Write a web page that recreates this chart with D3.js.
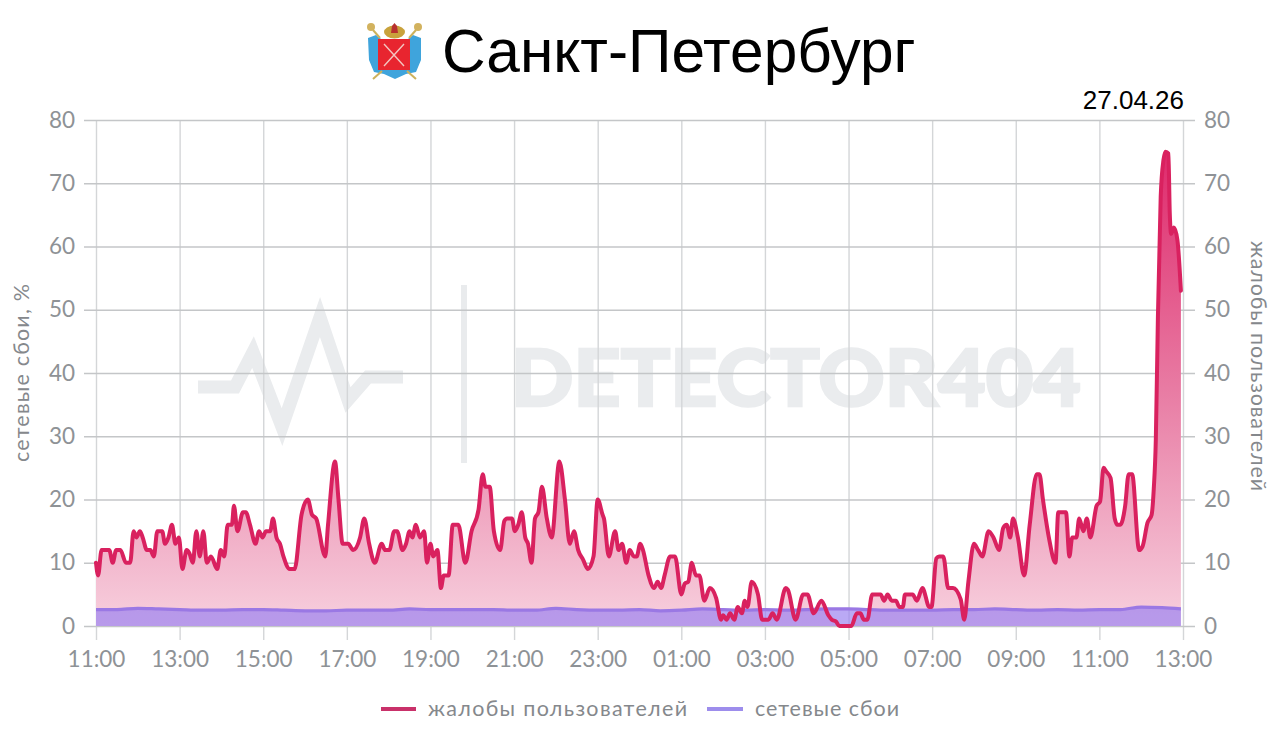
<!DOCTYPE html>
<html>
<head>
<meta charset="utf-8">
<script src="https://cdn.jsdelivr.net/npm/d3@7"></script>
<style>
  html, body { margin: 0; padding: 0; background: #fff; }
  svg { display: block; }
  .tick text { font-family: Lato, sans-serif; font-size: 22.5px; fill: #8e9296; }
  .label { font-family: Lato, sans-serif; font-size: 21.5px; fill: #85888c; }
</style>
</head>
<body>
<div id="chart"></div>
<script>
// minutes after 11:00 on the first day
var complaintMinutes = [0,3,8,19,24,29,35,43,49,54,58,63,67,73,78,83,88,95,99,104,109,114,119,124,130,134,139,144,149,154,159,165,174,179,184,189,195,198,203,211,215,221,229,234,239,244,250,254,259,264,269,278,285,295,304,310,316,329,333,343,348,354,362,369,379,385,392,400,
  410,415,421,428,432,440,445,450,454,459,465,471,475,480,484,490,495,499,506,512,520,530,539,549,555,559,565,571,580,586,590,597,601,606,611,616,620,625,630,635,640,647,654,665,673,680,686,692,699,706,714,720,727,729,736,745,750,755,761,766,772,776,781,785,793,801,806,811,816,
  824,831,840,845,850,855,861,866,873,881,890,897,900,905,910,916,921,927,931,935,941,950,956,965,971,977,990,993,1004,1015,1021,1030,1041,1051,1056,1062,1067,1084,1092,1097,1102,1107,1114,1126,1131,1136,1142,1148,1153,1158,1161,1172,1178,1186,1196,1199,1206,1210,1216,1223,1230,
  1241,1246,1252,1260,1266,1272,1281,1288,1296,1302,1307,1312,1316,1323,1332,1340,1350,1354,1359,1368,1377,1381,1392,1397,1401,1407,1411,1417,1422,1427,1436,1441,1446,1450,1456,1462,1466,1470,1477,1482,1487,1497,1502,1509,1515,1518,1521,1524,1528,1532,1535,1539,1541,1543,1547,1552,1557];
var complaintValues = [10,8,12,12,10,12,12,10,10,15,14,15,14,12,12,11,15,15,13,14,16,13,14,9,12,11.5,10,15,11,15,10,11,9,12,11,16,16,19,15,18,18,16,13,15,14,15,15,17,14,13,11,9,9,17.6,20,17.6,17,11,16,26,20,13,13,12,14,17,13,10,
  13,12,12,15,15,12,13,15,14,16,14,15,10,13,11,12,6,8,8,16,16,10,15,18.4,24,22,22,15,12,16.6,17,17,15,16,18,14,13,10,17,18,22,17,14,26,20,13,15,12,10.5,9,11,20,17.6,17,11,15,12,13,10,12,11,11,13,12,8,6,7,6,8,
  11,11,5,6.7,7,10,8,8,4,6,4.4,1,1.7,1,2,1,3,2,4,3,7,5,1,1,2,1,6,5.7,1,5,5,2,4,1.7,1,0.7,0,0,2,2,1,1,5,5,4,5,4,4,3,3,5,5,4,6,3,3,10.7,11,11,6,6,
  4.2,1,7,13,12,11,15,14,12,15.5,16,14,17,14,8,16,24,24,20,13.7,10,18,18,11,14,14,17,15,17,14,19,19.7,25,24.4,23.4,17,16,16,19,24,24,12,12.6,16.3,17.6,21.6,29.5,48.9,67.9,73.7,75,74.7,65.3,62,63,61,53];

var failureMinutes = [0,30,60,90,120,150,180,210,240,270,300,330,360,390,420,450,480,510,540,570,600,630,660,690,720,750,780,810,840,870,900,930,960,990,1020,1050,1080,1110,1140,1170,1200,1230,1260,1290,1320,1350,1380,1410,1440,1470,1500,1530,1557];
var failureValues = [2.6,2.6,2.8,2.7,2.6,2.5,2.5,2.6,2.6,2.5,2.4,2.4,2.5,2.5,2.5,2.7,2.6,2.6,2.6,2.6,2.5,2.5,2.8,2.6,2.5,2.5,2.6,2.4,2.5,2.7,2.6,2.5,2.6,2.5,2.6,2.7,2.7,2.6,2.5,2.5,2.5,2.6,2.6,2.7,2.6,2.5,2.6,2.5,2.6,2.6,3.0,2.9,2.7];

var xTicks = [0,120,240,360,480,600,720,840,960,1080,1200,1320,1440,1560];
var xTickLabels = ['11:00','13:00','15:00','17:00','19:00','21:00','23:00','01:00','03:00','05:00','07:00','09:00','11:00','13:00'];
var yTicks = [0,10,20,30,40,50,60,70,80];

var width = 1280, height = 740;
var plotLeft = 96, plotRight = 1183, plotTop = 120, plotBottom = 626;

var svg = d3.select('#chart').append('svg')
  .attr('width', width)
  .attr('height', height);

var x = d3.scaleLinear().domain([0, 1560]).range([plotLeft, plotRight]);
var y = d3.scaleLinear().domain([0, 80]).range([plotBottom, plotTop]);

var complaints = complaintMinutes.map(function(m, i) { return {m: m, v: complaintValues[i]}; });
var failures = failureMinutes.map(function(m, i) { return {m: m, v: failureValues[i]}; });

var defs = svg.append('defs');
var grad = defs.append('linearGradient')
  .attr('id', 'pinkFill')
  .attr('gradientUnits', 'userSpaceOnUse')
  .attr('x1', 0).attr('x2', 0)
  .attr('y1', y(75)).attr('y2', y(0));
grad.append('stop').attr('offset', '0%').attr('stop-color', '#df2a6c');
grad.append('stop').attr('offset', '50%').attr('stop-color', '#e87ba3');
grad.append('stop').attr('offset', '100%').attr('stop-color', '#f7d0de');

// watermark sits under the grid
var wm = svg.append('g').attr('class', 'watermark');
wm.append('polyline')
  .attr('points', '198,387 235,387 253,352 282,427 320,317 348,400 368,377 403,377')
  .attr('fill', 'none')
  .attr('stroke', '#eaecee')
  .attr('stroke-width', 13);
wm.append('rect')
  .attr('x', 461).attr('y', 285)
  .attr('width', 6).attr('height', 178)
  .attr('fill', '#e9ebed');
wm.append('text')
  .attr('x', 511).attr('y', 406)
  .attr('textLength', 570)
  .attr('lengthAdjust', 'spacingAndGlyphs')
  .attr('font-family', 'Lato, sans-serif')
  .attr('font-weight', 900)
  .attr('font-size', 78)
  .attr('fill', '#eaecee')
  .attr('stroke', '#eaecee')
  .attr('stroke-width', 2.5)
  .text('DETECTOR404');

// axes, the tick lines double as the grid
var leftAxis = d3.axisLeft(y).tickValues(yTicks).tickSizeInner(-1111).tickSizeOuter(0).tickPadding(9);
var rightAxis = d3.axisRight(y).tickValues(yTicks).tickSize(0).tickPadding(9);
var bottomAxis = d3.axisBottom(x).tickValues(xTicks)
  .tickFormat(function(d, i) { return xTickLabels[i]; })
  .tickSizeInner(-520).tickSizeOuter(0).tickPadding(11);

svg.append('g').attr('transform', 'translate(0,640)').call(bottomAxis)
  .call(function(g) { g.select('.domain').remove(); })
  .call(function(g) { g.selectAll('.tick line').attr('stroke', '#d4d6d8').attr('stroke-width', 1.4); });
svg.append('g').attr('transform', 'translate(84,0)').call(leftAxis)
  .call(function(g) { g.select('.domain').remove(); })
  .call(function(g) { g.selectAll('.tick line').attr('stroke', '#c4c6c8').attr('stroke-width', 1.4); });
svg.append('g').attr('transform', 'translate(1195,0)').call(rightAxis)
  .call(function(g) { g.select('.domain').remove(); g.selectAll('.tick line').remove(); });

var curve = d3.curveMonotoneX;
var area = d3.area()
  .x(function(d) { return x(d.m); })
  .y0(y(0))
  .y1(function(d) { return y(d.v); })
  .curve(curve);
var line = d3.line()
  .x(function(d) { return x(d.m); })
  .y(function(d) { return y(d.v); })
  .curve(curve);

svg.append('path').datum(complaints).attr('d', area).attr('fill', 'url(#pinkFill)');
svg.append('path').datum(failures).attr('d', area).attr('fill', '#9a80f0').attr('fill-opacity', 0.68);
svg.append('path').datum(failures).attr('d', line)
  .attr('fill', 'none').attr('stroke', '#9a78e4').attr('stroke-width', 3.2);
svg.append('path').datum(complaints).attr('d', line)
  .attr('fill', 'none').attr('stroke', '#d9215f').attr('stroke-width', 4)
  .attr('stroke-linejoin', 'round').attr('stroke-linecap', 'round');

// axis titles
svg.append('text').attr('class', 'label')
  .attr('transform', 'translate(29,373) rotate(-90)')
  .attr('text-anchor', 'middle').attr('textLength', 178).text('сетевые сбои, %');
svg.append('text').attr('class', 'label')
  .attr('transform', 'translate(1251,366) rotate(90)')
  .attr('text-anchor', 'middle').attr('textLength', 250).text('жалобы пользователей');

// legend
svg.append('line').attr('x1', 381).attr('x2', 416).attr('y1', 709).attr('y2', 709)
  .attr('stroke', '#c9316a').attr('stroke-width', 4);
svg.append('text').attr('class', 'label').attr('x', 428).attr('y', 716)
  .attr('textLength', 259).text('жалобы пользователей');
svg.append('line').attr('x1', 707).attr('x2', 743).attr('y1', 709).attr('y2', 709)
  .attr('stroke', '#9d8dec').attr('stroke-width', 4);
svg.append('text').attr('class', 'label').attr('x', 755).attr('y', 716)
  .attr('textLength', 144).text('сетевые сбои');

// title and date
svg.append('text')
  .attr('x', 442).attr('y', 72)
  .attr('font-family', '"Liberation Sans", Arial, sans-serif')
  .attr('font-size', 60.4).attr('fill', '#000')
  .text('Санкт-Петербург');
svg.append('text')
  .attr('x', 1184).attr('y', 109)
  .attr('text-anchor', 'end')
  .attr('font-family', '"Liberation Sans", Arial, sans-serif')
  .attr('font-size', 26).attr('fill', '#000')
  .text('27.04.26');

// coat of arms, simplified
var arms = svg.append('g').attr('transform', 'translate(368,22)');
arms.append('path')
  .attr('d', 'M0,16 L8,13 L13,17 L40,17 L45,13 L53,16 L53,38 L48,50 L38,52 L27,57 L16,52 L6,50 L1,38 Z')
  .attr('fill', '#3fa4dc');
arms.append('rect').attr('x', 10).attr('y', 17).attr('width', 32).attr('height', 31).attr('fill', '#e8252f');
arms.append('path').attr('d', 'M16,22 L36,44 M36,22 L16,44')
  .attr('stroke', '#f3c6c0').attr('stroke-width', 1.4);
arms.append('ellipse').attr('cx', 26.5).attr('cy', 10).attr('rx', 10.5).attr('ry', 6.5).attr('fill', '#c9a23c');
arms.append('path').attr('d', 'M23,11 L24,4 L26.5,1 L29,4 L30,11 Z').attr('fill', '#b8312f');
arms.append('circle').attr('cx', 3).attr('cy', 5).attr('r', 4).attr('fill', '#d2b25e');
arms.append('circle').attr('cx', 50).attr('cy', 5).attr('r', 4).attr('fill', '#d2b25e');
arms.append('path').attr('d', 'M5,8 L12,16 M48,8 L41,16 M5,57 L14,49 M48,57 L39,49')
  .attr('stroke', '#cdb25c').attr('stroke-width', 2);
</script>
</body>
</html>
